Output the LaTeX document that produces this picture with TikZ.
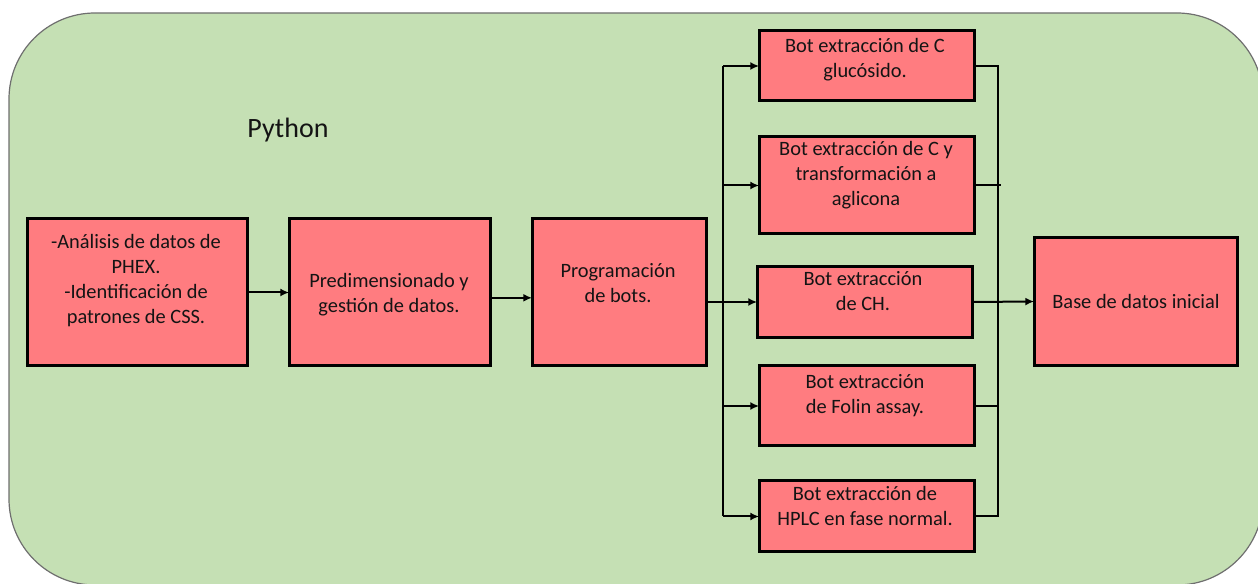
\documentclass[tikz,border=0pt]{standalone}
\usepackage{fontspec}
\setmainfont{Carlito}
\usetikzlibrary{arrows.meta}
\definecolor{panel}{HTML}{C5E0B4}
\definecolor{panelline}{HTML}{6F6F6F}
\definecolor{boxfill}{HTML}{FF7C80}
\definecolor{ink}{HTML}{141414}
\tikzset{
  stepbox/.style={draw=black, line width=2.25pt, fill=boxfill, inner sep=0pt, outer sep=0pt},
  boxtext/.style={text=ink, align=center, inner sep=0pt, font=\fontsize{15.3}{18.75}\selectfont},
  link/.style={draw=black, line width=1.5pt},
  arr/.style={link, -{Latex[length=6.5pt,width=6pt]}}
}
\begin{document}
\begin{tikzpicture}[x=0.75pt, y=-0.75pt]
\useasboundingbox (0,0) rectangle (1258,584);
\begin{scope}
\clip (0,0) rectangle (1258,584);
\draw[fill=panel, draw=panelline, line width=0.9pt, rounded corners=64.5pt] (9,13) rectangle (1263,585);
\end{scope}

\node[text=ink, inner sep=0pt, font=\fontsize{21}{25}\selectfont] (lang) at (288,130) {Python};

% first three stages
\node[stepbox, minimum width=220*0.75pt, minimum height=147*0.75pt] (s1) at (137,292.5) {};
\node[stepbox, minimum width=201*0.75pt, minimum height=147*0.75pt] (s2) at (389.5,292.5) {};
\node[stepbox, minimum width=174*0.75pt, minimum height=147*0.75pt] (s3) at (619,292.5) {};
\node[boxtext] (s1t) at (136,281) {-Análisis de datos de\\PHEX.\\-Identificación de\\patrones de CSS.};
\node[boxtext] (s2t) at (389,295) {Predimensionado y\\gestión de datos.};
\node[boxtext] (s3t) at (618,283) {Programación\\de bots.};

% extraction bots
\node[stepbox, minimum width=215*0.75pt, minimum height=70*0.75pt] (b1) at (866.5,66) {};
\node[stepbox, minimum width=215*0.75pt, minimum height=97*0.75pt] (b2) at (866.5,185.5) {};
\node[stepbox, minimum width=215*0.75pt, minimum height=71*0.75pt] (b3) at (864.5,302) {};
\node[stepbox, minimum width=215*0.75pt, minimum height=80*0.75pt] (b4) at (866.5,406) {};
\node[stepbox, minimum width=215*0.75pt, minimum height=71*0.75pt] (b5) at (866.5,516.5) {};
\node[boxtext] (b1t) at (865,60) {Bot extracción de C\\glucósido.};
\node[boxtext] (b2t) at (866,175) {Bot extracción de C y\\transformación a\\aglicona};
\node[boxtext] (b3t) at (863,291) {Bot extracción\\de CH.};
\node[boxtext] (b4t) at (865,396) {Bot extracción\\de Folin assay.};
\node[boxtext] (b5t) at (865,506) {Bot extracción de\\HPLC en fase normal.};

% result
\node[stepbox, minimum width=203*0.75pt, minimum height=128*0.75pt] (db) at (1135.5,301.5) {};
\node[boxtext] (dbt) at (1136,301) {Base de datos inicial};

% bus coordinates
\coordinate (split) at (723,300);
\coordinate (merge) at (998,300);

% main flow
\draw[arr] (s1) -- (s2);
\draw[arr] ([yshift=-4pt]s2.east) -- ([yshift=-4pt]s3.west);
\draw[arr] (s3.east |- b3.west) -- (b3.west);

% fan-out to bots
\draw[link] (split |- b1.west) -- (split |- b5.west);
\draw[arr] (split |- b1.west) -- (b1.west);
\draw[arr] (split |- b2.west) -- (b2.west);
\draw[arr] (split |- b4.west) -- (b4.west);
\draw[arr] (split |- b5.west) -- (b5.west);

% fan-in to database
\draw[link] (b1.east) -- (merge |- b1.east) -- (merge |- b5.east) -- (b5.east);
\draw[link] (b2.east) -- ([xshift=2pt]merge |- b2.east);
\draw[link] (b4.east) -- (merge |- b4.east);
\draw[arr] (b3.east) -- (db.west);
\end{tikzpicture}
\end{document}
